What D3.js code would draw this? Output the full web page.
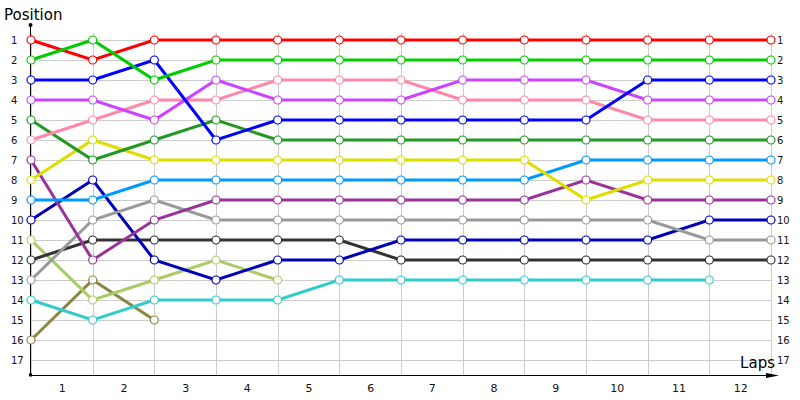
<!DOCTYPE html>
<html>
<head>
<meta charset="utf-8">
<script src="https://cdn.jsdelivr.net/npm/d3@7"></script>
<style>
  body { margin: 0; background: #fff; }
  text { font-family: "DejaVu Sans", Verdana, sans-serif; }
</style>
</head>
<body>
<div id="chart"></div>
<script>
// Laps 0..12 and positions 1..17
const laps = [0, 1, 2, 3, 4, 5, 6, 7, 8, 9, 10, 11, 12];
const lapLabels = ["1", "2", "3", "4", "5", "6", "7", "8", "9", "10", "11", "12"];
const positions = [1, 2, 3, 4, 5, 6, 7, 8, 9, 10, 11, 12, 13, 14, 15, 16, 17];

// Position of each car per lap (shorter arrays = retired)
const redCar      = [1, 2, 1, 1, 1, 1, 1, 1, 1, 1, 1, 1, 1];
const greenCar    = [2, 1, 3, 2, 2, 2, 2, 2, 2, 2, 2, 2, 2];
const blueCar     = [3, 3, 2, 6, 5, 5, 5, 5, 5, 5, 3, 3, 3];
const magentaCar  = [4, 4, 5, 3, 4, 4, 4, 3, 3, 3, 4, 4, 4];
const pinkCar     = [6, 5, 4, 4, 3, 3, 3, 4, 4, 4, 5, 5, 5];
const darkGreenCar = [5, 7, 6, 5, 6, 6, 6, 6, 6, 6, 6, 6, 6];
const yellowCar   = [8, 6, 7, 7, 7, 7, 7, 7, 7, 9, 8, 8, 8];
const skyCar      = [9, 9, 8, 8, 8, 8, 8, 8, 8, 7, 7, 7, 7];
const plumCar     = [7, 12, 10, 9, 9, 9, 9, 9, 9, 8, 9, 9, 9];
const greyCar     = [13, 10, 9, 10, 10, 10, 10, 10, 10, 10, 10, 11, 11];
const navyCar     = [10, 8, 12, 13, 12, 12, 11, 11, 11, 11, 11, 10, 10];
const blackCar    = [12, 11, 11, 11, 11, 11, 12, 12, 12, 12, 12, 12, 12];
const limeCar     = [11, 14, 13, 12, 13];
const cyanCar     = [14, 15, 14, 14, 14, 13, 13, 13, 13, 13, 13, 13];
const oliveCar    = [16, 13, 15];

const series = [
    { values: oliveCar, color: "#888844" },
    { values: limeCar, color: "#aacc66" },
    { values: cyanCar, color: "#33cccc" },
    { values: blackCar, color: "#333333" },
    { values: navyCar, color: "#0000bb" },
    { values: greyCar, color: "#999999" },
    { values: plumCar, color: "#993399" },
    { values: skyCar, color: "#0099ff" },
    { values: yellowCar, color: "#dddd00" },
    { values: darkGreenCar, color: "#229922" },
    { values: pinkCar, color: "#ff88aa" },
    { values: magentaCar, color: "#cc44ff" },
    { values: blueCar, color: "#0000ff" },
    { values: redCar, color: "#ff0000" },
    { values: greenCar, color: "#00cc00" }
];

let width = 800,
    height = 400;

let svg = d3.select("#chart")
    .append("svg")
    .attr("width", width)
    .attr("height", height);

let xScale = d3.scaleLinear().domain([0, 12]).range([31, 771]);
let yScale = d3.scaleLinear().domain([1, 17]).range([40, 360]);
const axisY = 375;

// Grid
svg.append("g").selectAll("line")
    .data(positions)
    .enter().append("line")
    .attr("x1", xScale(0)).attr("x2", xScale(12))
    .attr("y1", d => yScale(d) + 0.5).attr("y2", d => yScale(d) + 0.5)
    .attr("stroke", "#cccccc");

svg.append("g").selectAll("line")
    .data(laps)
    .enter().append("line")
    .attr("x1", d => Math.round(xScale(d)) + 0.5).attr("x2", d => Math.round(xScale(d)) + 0.5)
    .attr("y1", 33).attr("y2", axisY)
    .attr("stroke", "#cccccc");

// Axes
svg.append("line")
    .attr("x1", 30.5).attr("x2", 30.5)
    .attr("y1", 25).attr("y2", axisY)
    .attr("stroke", "black");
svg.append("circle").attr("cx", 30.5).attr("cy", 25).attr("r", 2).attr("fill", "black");
svg.append("rect").attr("x", 29).attr("y", axisY - 1.5).attr("width", 3).attr("height", 3).attr("fill", "black");

svg.append("line")
    .attr("x1", 30.5).attr("x2", 772)
    .attr("y1", axisY + 0.5).attr("y2", axisY + 0.5)
    .attr("stroke", "black");
svg.append("path")
    .attr("d", `M766,${axisY - 2} L779,${axisY + 0.5} L766,${axisY + 3} Z`)
    .attr("fill", "black");

// Titles
svg.append("text")
    .attr("x", 4).attr("y", 20)
    .attr("font-size", 15)
    .attr("fill", "black")
    .text("Position");

svg.append("text")
    .attr("x", 775).attr("y", 368)
    .attr("text-anchor", "end")
    .attr("font-size", 15)
    .attr("fill", "black")
    .text("Laps");

// Position labels, left and right
svg.append("g").selectAll("text")
    .data(positions)
    .enter().append("text")
    .attr("x", 11)
    .attr("y", d => yScale(d) + 3.5)
    .attr("font-size", 10)
    .attr("fill", "#111")
    .text(d => d);

svg.append("g").selectAll("text")
    .data(positions)
    .enter().append("text")
    .attr("x", 777)
    .attr("y", d => yScale(d) + 3.5)
    .attr("font-size", 10)
    .attr("fill", "#111")
    .text(d => d);

// Lap labels, centred between the lap gridlines
svg.append("g")
    .attr("transform", `translate(0,${axisY})`)
    .call(d3.axisBottom(xScale)
        .tickValues(lapLabels.map((d, i) => i + 0.5))
        .tickFormat((d, i) => lapLabels[i])
        .tickSize(0)
        .tickPadding(9))
    .call(g => g.select(".domain").remove())
    .selectAll("text")
    .attr("font-size", 11)
    .attr("font-family", "DejaVu Sans, Verdana, sans-serif")
    .attr("fill", "#111");

// Lines and points
const line = d3.line()
    .x((d, i) => xScale(i))
    .y(d => yScale(d));

series.forEach(s => {
    const g = svg.append("g");
    g.append("path")
        .datum(s.values)
        .attr("d", line)
        .attr("fill", "none")
        .attr("stroke", s.color)
        .attr("stroke-width", 3);
    g.selectAll("circle")
        .data(s.values)
        .enter().append("circle")
        .attr("cx", (d, i) => xScale(i))
        .attr("cy", d => yScale(d))
        .attr("r", 4)
        .attr("fill", "white")
        .attr("stroke", s.color)
        .attr("stroke-width", 1.2);
});
</script>
</body>
</html>
